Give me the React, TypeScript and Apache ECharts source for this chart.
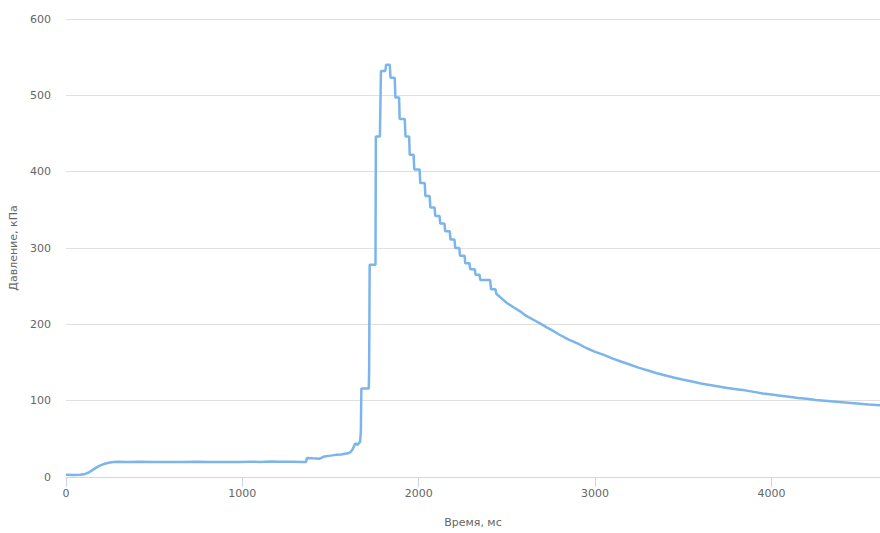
import React, { useEffect, useRef } from "react";
import * as echarts from "echarts";

// Pressure trace: time (ms) vs pressure (kPa)
const timeMs: number[] = [
  0, 40, 80, 110, 130, 150, 170, 190, 210, 230, 250, 270, 300, 350, 420, 500, 580, 660, 740, 820,
  900, 980, 1040, 1100, 1160, 1220, 1280, 1340, 1362, 1366, 1400, 1440, 1465, 1500, 1530, 1560,
  1600, 1615, 1625, 1640, 1655, 1662, 1668, 1672, 1675, 1717, 1719, 1722, 1755, 1757, 1780, 1786,
  1811, 1815, 1836, 1840, 1864, 1868, 1889, 1892, 1921, 1925, 1946, 1949, 1971, 1975, 2005, 2009,
  2034, 2038, 2062, 2066, 2090, 2094, 2118, 2122, 2146, 2150, 2176, 2180, 2203, 2207, 2230, 2234,
  2260, 2264, 2288, 2292, 2318, 2322, 2345, 2349, 2405, 2410, 2435, 2440, 2470, 2500, 2540, 2575,
  2610, 2650, 2690, 2726, 2765, 2801, 2850, 2900, 2950, 3000, 3050, 3100, 3150, 3200, 3250, 3300,
  3350, 3400, 3450, 3500, 3550, 3600, 3650, 3700, 3750, 3800, 3850, 3900, 3950, 4000, 4050, 4100,
  4150, 4200, 4250, 4300, 4350, 4400, 4450, 4500, 4550, 4615,
];

const pressureKPa: number[] = [
  3, 2.5, 3, 4, 6, 9, 12, 14.5, 16.5, 18, 19, 19.5, 20, 19.6, 20, 19.5, 19.8, 19.6, 19.9, 19.5,
  19.7, 19.6, 20, 19.8, 20.2, 19.9, 20, 19.8, 19.6, 25, 24.5, 24, 27, 28, 29, 29.5,
  31, 33, 36, 44, 42, 45, 46, 60, 116, 116, 140, 278, 278, 446, 446, 532,
  532, 540, 540, 523, 523, 497, 497, 469, 469, 446, 446, 422, 422, 403, 403, 385,
  385, 368, 368, 353, 353, 342, 342, 332, 332, 322, 322, 311, 311, 300, 300, 290,
  290, 280, 280, 272, 272, 265, 265, 258, 258, 246, 246, 240, 234, 228, 222, 217,
  211, 206, 201, 196, 191, 186, 180, 175, 169, 164, 160, 155, 151, 147, 143, 139.5,
  136, 133, 130, 127.5, 125, 122.5, 120.5, 118.5, 116.5, 115, 113.5, 111.5, 109.5, 108, 106.5, 105,
  103.5, 102.5, 101, 100, 99, 98, 97, 96, 95, 94,
];

const xTickValues: number[] = [0, 1000, 2000, 3000, 4000];

const xAxisTitle = "Время, мс";
const yAxisTitle = "Давление, кПа";

const FONT = "'DejaVu Sans', Verdana, sans-serif";

export default function App() {
  const ref = useRef<HTMLDivElement>(null);

  useEffect(() => {
    if (!ref.current) return;
    const chart = echarts.init(ref.current, undefined, { renderer: "svg" });
    const points = timeMs.map((t, i) => [t, pressureKPa[i]]);
    chart.setOption({
      animation: false,
      backgroundColor: "#ffffff",
      grid: { left: 65, right: 0, top: 19, bottom: 50, containLabel: false },
      xAxis: {
        type: "value",
        min: 0,
        max: 4615,
        name: xAxisTitle,
        nameLocation: "middle",
        nameGap: 40,
        nameTextStyle: { color: "#666666", fontSize: 11, fontFamily: FONT },
        axisLine: { show: true, lineStyle: { color: "#ccd6eb", width: 1 } },
        axisTick: {
          show: true,
          length: 10,
          customValues: xTickValues,
          lineStyle: { color: "#ccd6eb" },
        },
        axisLabel: {
          customValues: xTickValues,
          color: "#666666",
          fontSize: 11,
          fontFamily: FONT,
          margin: 11,
          formatter: (v: number) => String(v),
        },
        splitLine: { show: false },
      },
      yAxis: {
        type: "value",
        min: 0,
        max: 600,
        interval: 100,
        name: yAxisTitle,
        nameLocation: "middle",
        nameGap: 46,
        nameTextStyle: { color: "#666666", fontSize: 11, fontFamily: FONT },
        axisLine: { show: false },
        axisTick: { show: false },
        axisLabel: {
          color: "#666666",
          fontSize: 11,
          fontFamily: FONT,
          margin: 15,
          formatter: (v: number) => String(v),
        },
        splitLine: { show: true, lineStyle: { color: "#e0e0e0", width: 1 } },
      },
      series: [
        {
          type: "line",
          data: points,
          showSymbol: false,
          lineStyle: { color: "#7cb5ec", width: 2.5 },
          itemStyle: { color: "#7cb5ec" },
        },
      ],
    });
    return () => chart.dispose();
  }, []);

  return (
    <div
      ref={ref}
      style={{ position: "fixed", left: 0, top: 0, width: 880, height: 533 }}
    />
  );
}
